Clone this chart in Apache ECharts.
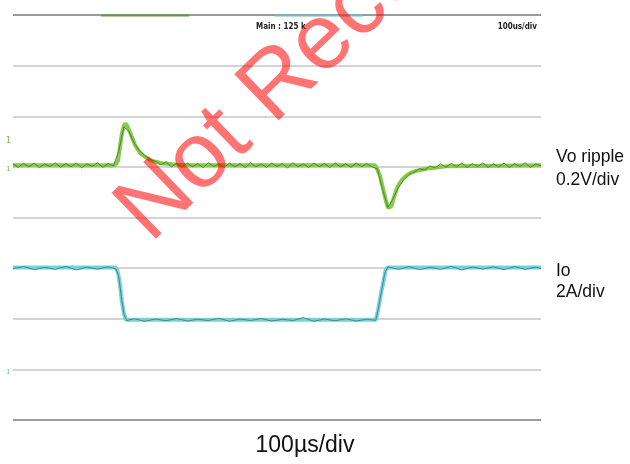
<!DOCTYPE html>
<html>
<head>
<meta charset="utf-8">
<script src="https://cdn.jsdelivr.net/npm/echarts@6/dist/echarts.min.js"></script>
<style>html,body{margin:0;padding:0;background:#fff;}#c{width:630px;height:464px;}</style>
</head>
<body>
<div id="c"></div>
<script>
// Time axis in microseconds (100 us/div, 10 divisions)
var voTime = [0,190,195,199,203,206,210,213,217,222,227,231,236,240,245,250,259,270,285,310,340,686,690,695,699,703,707,710,713,717,720,724,727,732,737,745,752,762,771,790,820,1000];
var voValue = [0.006,0.006,0.01,0.025,0.085,0.13,0.162,0.172,0.16,0.134,0.108,0.087,0.07,0.058,0.048,0.04,0.028,0.02,0.013,0.008,0.006,0.006,-0.01,-0.035,-0.07,-0.105,-0.14,-0.162,-0.168,-0.155,-0.13,-0.105,-0.085,-0.065,-0.05,-0.035,-0.025,-0.017,-0.012,-0.005,0.002,0.006];
var voNoiseTime = [0,10,20,30,40,50,60,70,80,90,100,110,120,130,140,150,160,170,180,190,200,210,220,230,240,250,260,270,280,290,300,310,320,330,340,350,360,370,380,390,400,410,420,430,440,450,460,470,480,490,500,510,520,530,540,550,560,570,580,590,600,610,620,630,640,650,660,670,680,690,700,710,720,730,740,750,760,770,780,790,800,810,820,830,840,850,860,870,880,890,900,910,920,930,940,950,960,970,980,990,1000];
var voNoiseValue = [0.012,-0.002,0.014,0.0,0.015,-0.003,0.012,0.001,0.016,-0.002,0.013,0.0,0.015,-0.004,0.012,0.002,0.016,-0.002,0.013,0.004,0.06,0.158,0.14,0.092,0.062,0.044,0.03,0.022,0.008,0.02,0.0,0.014,-0.002,0.015,0.0,0.013,-0.003,0.016,0.001,0.012,-0.002,0.015,0.0,0.013,-0.003,0.016,0.0,0.012,-0.002,0.015,0.001,0.013,-0.004,0.016,0.0,0.012,-0.002,0.015,0.001,0.013,-0.003,0.016,0.0,0.012,-0.002,0.015,0.001,0.013,0.0,-0.008,-0.09,-0.16,-0.125,-0.08,-0.052,-0.03,-0.02,-0.008,-0.012,0.004,-0.004,0.012,-0.002,0.014,0.0,0.015,-0.003,0.013,0.001,0.016,-0.002,0.012,0.0,0.015,-0.003,0.013,0.001,0.016,-0.002,0.012,0.004];
var ioTime = [0,195,199,203,206,210,214,687,691,697,703,706,710,1000];
var ioValue = [4.02,4.02,3.8,3.3,2.7,2.2,1.96,1.96,2.3,3.0,3.6,3.95,4.02,4.02];
var ioNoiseTime = [0,20,40,60,80,100,120,140,160,180,195,200,205,210,215,230,250,270,290,310,330,350,370,390,410,430,450,470,490,510,530,550,570,590,610,630,650,670,687,692,698,704,710,730,750,770,790,810,830,850,870,890,910,930,950,970,990,1000];
var ioNoiseValue = [3.98,4.06,3.94,4.03,3.95,4.07,3.93,4.04,3.96,4.05,3.97,3.7,2.9,2.2,1.93,2.0,1.9,1.99,1.92,2.01,1.91,1.98,1.93,2.02,1.9,1.99,1.93,2.01,1.91,1.98,1.93,2.04,1.9,1.99,1.92,2.0,1.91,1.98,1.94,2.4,3.1,3.8,4.05,3.95,4.06,3.94,4.03,3.95,4.07,3.93,4.04,3.96,4.05,3.94,4.06,3.95,4.04,3.98];

var channelLabels = [["Vo ripple", "0.2V/div"], ["Io", "2A/div"]];
var timebaseLabel = "100\u00b5s/div";
var scopeInfo = ["Main : 125 k", "100us/div"];
var watermark = "Not Recommended";

function pairs(t, v){ var out=[]; for (var i=0;i<t.length;i++) out.push([t[i], v[i]]); return out; }

var chart = echarts.init(document.getElementById('c'), null, {renderer:'canvas'});
var dark = '#7a7a7a', light = '#c6c6c6';
var font = '"Liberation Sans", Arial, sans-serif';
chart.setOption({
  animation: false,
  backgroundColor: '#ffffff',
  grid: {left: 13, right: 89, top: 15, bottom: 44},
  xAxis: {type: 'value', min: 0, max: 1000, interval: 100,
    axisLine: {show: false}, axisTick: {show: false}, axisLabel: {show: false}, splitLine: {show: false}},
  yAxis: [
    {type: 'value', min: -1.0, max: 0.6, interval: 0.2,
      axisLine: {show: false}, axisTick: {show: false}, axisLabel: {show: false},
      splitLine: {show: true, lineStyle: {width: 1.6, color: [dark, light, light, light, light, light, light, light, dark]}}},
    {type: 'value', min: -2, max: 14, interval: 2,
      axisLine: {show: false}, axisTick: {show: false}, axisLabel: {show: false}, splitLine: {show: false}}
  ],
  series: [
    {type: 'line', yAxisIndex: 0, data: pairs(voTime, voValue), symbol: 'none',
      lineStyle: {color: '#8cc84b', width: 4}, z: 3},
    {type: 'line', yAxisIndex: 0, data: pairs(voNoiseTime, voNoiseValue), symbol: 'none',
      lineStyle: {color: '#3f8f2e', width: 1}, z: 4},
    {type: 'line', yAxisIndex: 1, data: pairs(ioTime, ioValue), symbol: 'none',
      lineStyle: {color: '#7dcfdc', width: 4}, z: 3},
    {type: 'line', yAxisIndex: 1, data: pairs(ioNoiseTime, ioNoiseValue), symbol: 'none',
      lineStyle: {color: '#2a9494', width: 1}, z: 4}
  ],
  graphic: [
    {type: 'rect', shape: {x: 101, y: 14.5, width: 88, height: 2}, style: {fill: '#5e9e3c'}, z: 5},
    {type: 'rect', shape: {x: 275, y: 14.5, width: 88, height: 2}, style: {fill: '#6cbccd'}, z: 5},
    {type: 'text', x: 256, y: 27, style: {text: scopeInfo[0], font: 'bold 8px "DejaVu Sans Condensed", sans-serif', fill: '#222', verticalAlign: 'middle', align: 'left'}},
    {type: 'text', x: 537, y: 27, style: {text: scopeInfo[1], font: 'bold 8px "DejaVu Sans Condensed", sans-serif', fill: '#222', verticalAlign: 'middle', align: 'right'}},
    {type: 'text', x: 6, y: 141, style: {text: '1', font: '8px "DejaVu Sans", sans-serif', fill: '#6bbd3c', verticalAlign: 'middle'}},
    {type: 'text', x: 6, y: 169, style: {text: '1', font: '7px "DejaVu Sans", sans-serif', fill: '#6bbd3c', verticalAlign: 'middle'}},
    {type: 'text', x: 6, y: 372, style: {text: '1', font: '7px "DejaVu Sans", sans-serif', fill: '#6cc6d8', verticalAlign: 'middle'}},
    {type: 'text', x: 556, y: 157, style: {text: channelLabels[0][0], font: '17.5px ' + font, fill: '#111', verticalAlign: 'middle'}},
    {type: 'text', x: 556, y: 180, style: {text: channelLabels[0][1], font: '17.5px ' + font, fill: '#111', verticalAlign: 'middle'}},
    {type: 'text', x: 556, y: 271, style: {text: channelLabels[1][0], font: '17.5px ' + font, fill: '#111', verticalAlign: 'middle'}},
    {type: 'text', x: 556, y: 292, style: {text: channelLabels[1][1], font: '17.5px ' + font, fill: '#111', verticalAlign: 'middle'}},
    {type: 'text', x: 305, y: 446, style: {text: timebaseLabel, font: '23px ' + font, fill: '#111', verticalAlign: 'middle', align: 'center'}},
    {type: 'text', x: 165, y: 259, rotation: 44 * Math.PI / 180, z: 100,
      style: {text: watermark, font: '93px ' + font, fill: 'rgba(255,0,0,0.55)', verticalAlign: 'bottom', align: 'left'}}
  ]
});
</script>
</body>
</html>
